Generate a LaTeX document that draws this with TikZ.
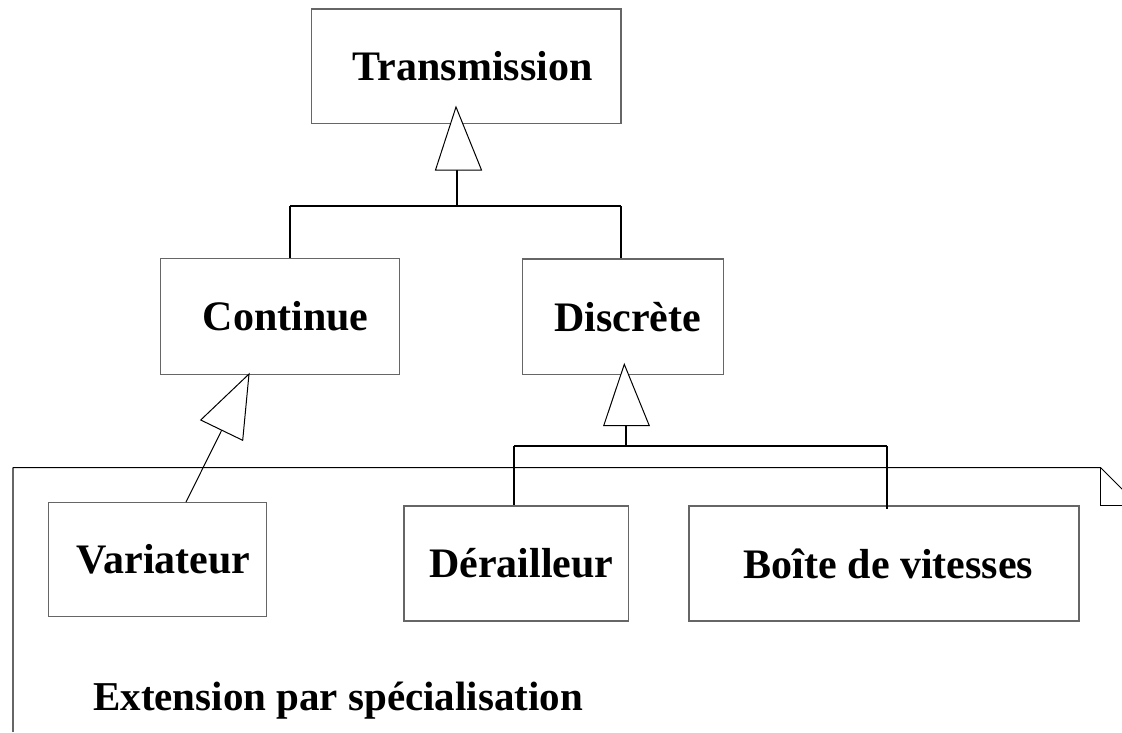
\documentclass[tikz,border=0pt]{standalone}
\usepackage{fontspec}
\setmainfont{Liberation Serif}
\begin{document}
\begin{tikzpicture}[x=1pt,y=-1pt,
  classbox/.style={draw=black!60, line width=1.3pt, fill=white, inner sep=0pt},
  nametext/.style={font=\bfseries\fontsize{42}{50}\selectfont, inner sep=0pt},
  titletext/.style={font=\bfseries\fontsize{41}{49}\selectfont, inner sep=0pt},
  gentri/.style={draw=black, line width=1pt, fill=white, line join=miter},
  bus/.style={draw=black, line width=1.8pt},
  thinlink/.style={draw=black, line width=1pt},
  frameline/.style={draw=black, line width=1pt},
  frameside/.style={draw=black!60, line width=1.6pt}]
\useasboundingbox (0,0) rectangle (1122,732);
\clip (0,0) rectangle (1122,732);
\fill[white] (0,0) rectangle (1122,732);

% package frame with folded corner
\draw[frameside] (12.7,732) -- (12.7,467.7);
\draw[frameline] (12.7,467.7) -- (1100.7,467.7) -- (1138,505);
\draw[frameline] (1100.7,467.7) -- (1100.7,505) -- (1138,505);

% classes
\node[classbox, minimum width=309.3pt, minimum height=114.3pt,
      label={[nametext, xshift=6.5pt]center:Transmission}] (trans) at (466.3,66.2) {};
\node[classbox, minimum width=239pt, minimum height=116pt,
      label={[nametext, xshift=6pt]center:Continue}] (cont) at (279.8,316.3) {};
\node[classbox, minimum width=201pt, minimum height=115.3pt,
      label={[nametext, xshift=5pt]center:Discrète}] (disc) at (622.8,316.7) {};
\node[classbox, minimum width=218pt, minimum height=114pt,
      label={[nametext, xshift=6pt]center:Variateur}] (var) at (157.7,559.7) {};
\node[classbox, minimum width=224.3pt, minimum height=115pt,
      label={[nametext, xshift=5pt]center:Dérailleur}] (der) at (516.2,563.5) {};
\node[classbox, minimum width=390pt, minimum height=115pt,
      label={[nametext, xshift=4.5pt]center:Boîte de vitesses}] (boite) at (884,563.5) {};

% Transmission <- Continue, Discrete
\coordinate (tipA) at (456,107);
\coordinate (baseA) at (457,170);
\coordinate (joinA) at (457,206);
\coordinate (dropA1) at (290.3,206);
\coordinate (dropA2) at (621,206);
\draw[bus] (baseA) -- (joinA);
\draw[bus] (dropA1) -- (dropA2);
\draw[bus] (dropA1) -- (dropA1 |- cont.north);
\draw[bus] (dropA2) -- (dropA2 |- disc.north);
\draw[gentri] (tipA) -- (435.5,170) -- (481.5,170) -- cycle;

% Discrete <- Derailleur, Boite de vitesses
\coordinate (tipB) at (624.3,364.3);
\coordinate (baseB) at (626.3,425.7);
\coordinate (joinB) at (626.3,446);
\coordinate (dropB1) at (514,446);
\coordinate (dropB2) at (887.3,446);
\draw[bus] (baseB) -- (joinB);
\draw[bus] (dropB1) -- (dropB2);
\draw[bus] (dropB1) -- (dropB1 |- der.north);
\draw[bus] (dropB2) -- ([yshift=-3.5pt]dropB2 |- boite.north);
\draw[gentri] (tipB) -- (603.7,425.7) -- (649.3,425.7) -- cycle;

% Continue <- Variateur
\coordinate (tipC) at (249,374);
\coordinate (baseC) at (221.7,430.2);
\draw[thinlink] (baseC) -- (var.north -| 186,0);
\draw[gentri] (tipC) -- (200.7,420) -- (242.7,440.3) -- cycle;

% frame title
\node[titletext, anchor=base west] (title) at (93,710) {Extension par spécialisation};
\end{tikzpicture}
\end{document}
